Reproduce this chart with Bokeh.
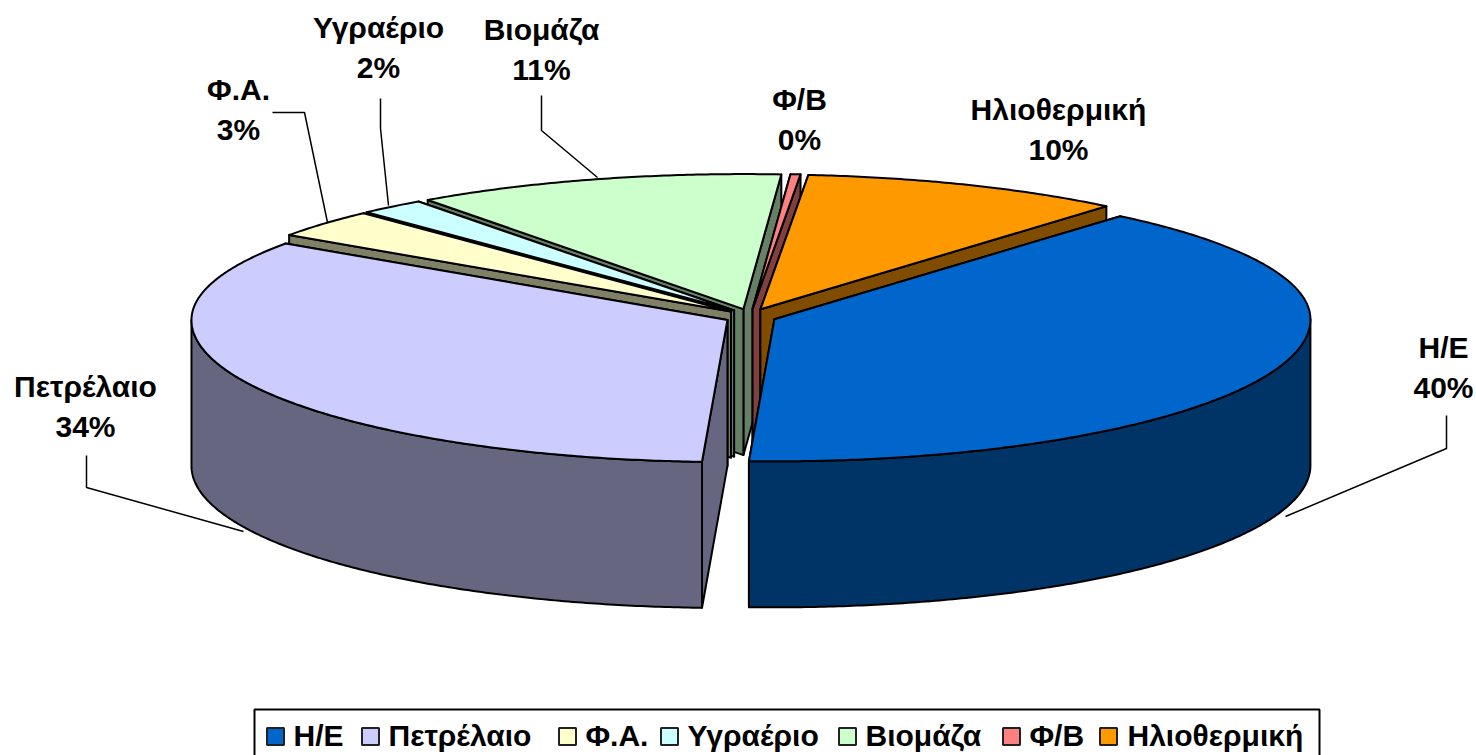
import numpy as np
from bokeh.plotting import figure
from bokeh.models import Range1d
from bokeh.core.properties import value
from bokeh.embed import file_html
from bokeh.resources import INLINE

categories = ["Η/Ε", "Πετρέλαιο", "Φ.Α.", "Υγραέριο", "Βιομάζα", "Φ/Β", "Ηλιοθερμική"]
values = [39.59, 33.82, 3.4, 2.0, 11.15, 0.3, 9.74]
top_colors = ["#0066CC", "#CCCCFF", "#FFFFCC", "#CCFFFF", "#CCFFCC", "#FF8080", "#FF9900"]
side_colors = ["#003366", "#666680", "#808066", "#668080", "#668066", "#804040", "#804D00"]
label_x = [1443, 85, 238, 378, 541, 799, 1058]
label_y = [346.5, 385.5, 88.5, 26.5, 28.5, 98.5, 108.5]
leader_x = [[1446, 1446, 1285], [86, 86, 243], [272, 304, 327], [380, 380, 388], [541, 541, 597], [], []]
leader_y = [[415, 448, 516], [455, 487, 531], [112, 112, 222], [98, 128, 205], [95, 130, 177], [], []]
legend_swatch_x = [275, 370, 567, 669, 847, 1011, 1108]
legend_text_x = [293, 388, 585, 687, 865, 1029, 1127]

START, RX, RY_FRONT, RY_BACK, DEPTH, EXPLODE, SQUASH = 40.2, 536, 142, 135, 146, 25.7, 0.3
CX, CY = 750, 316
FONT = value("Liberation Sans")

p = figure(width=1476, height=755, output_backend="svg", toolbar_location=None,
           x_range=Range1d(0, 1476), y_range=Range1d(755, 0), min_border=0,
           outline_line_color=None, background_fill_color="white")
p.axis.visible = False
p.grid.visible = False

total = sum(values)
edges = START + np.concatenate([[0], np.cumsum(values)]) / total * 360.0

def rim(cx, cy, a0, a1):
    th = np.radians(np.linspace(a0, a1, max(3, int(a1 - a0) * 2 + 1)))
    ry = np.where(np.cos(th) < 0, RY_FRONT, RY_BACK)
    return cx + RX * np.sin(th), cy - ry * np.cos(th)

for i in [4, 5, 6, 3, 2, 0, 1]:
    a0, a1 = edges[i], edges[i + 1]
    mid = np.radians((a0 + a1) / 2)
    cx = CX + EXPLODE * np.sin(mid)
    cy = CY - EXPLODE * SQUASH * np.cos(mid)
    rx, ry = rim(cx, cy, a0, a1)
    kw = dict(fill_color=side_colors[i], line_color="black", line_width=2, line_join="round")
    # the left-hand slices show their first cut face on top of the last one
    for j in ((-1, 0) if i in (1, 2, 3, 4) else (0, -1)):
        p.patch([cx, rx[j], rx[j], cx], [cy, ry[j], ry[j] + DEPTH, cy + DEPTH], **kw)
    f0, f1 = max(a0, 90), min(a1, 270)
    if f1 > f0:
        wx, wy = rim(cx, cy, f0, f1)
        p.patch(np.r_[wx, wx[::-1]], np.r_[wy, wy[::-1] + DEPTH], **kw)
    p.patch(np.r_[cx, rx], np.r_[cy, ry], fill_color=top_colors[i], line_color="black",
            line_width=2, line_join="round")

for xs, ys in zip(leader_x, leader_y):
    if xs:
        p.line(xs, ys, line_color="black", line_width=1.5)

pct = [f"{round(v / total * 100)}%" for v in values]
p.text(label_x, label_y, text=categories, text_font=FONT, text_font_style="bold",
       text_font_size="30px", text_align="center", text_baseline="middle", text_color="black")
p.text(label_x, [y + 40.5 for y in label_y], text=pct, text_font=FONT, text_font_style="bold",
       text_font_size="30px", text_align="center", text_baseline="middle", text_color="black")

# legend
p.quad(left=[254], right=[1319], top=[709], bottom=[770], fill_color="white", line_color="black", line_width=2)
p.scatter(legend_swatch_x, [736] * 7, marker="square", size=17, fill_color=top_colors,
          line_color="#222222", line_width=2)
p.text(legend_text_x, [735] * 7, text=categories, text_font=FONT, text_font_style="bold",
       text_font_size="30px", text_align="left", text_baseline="middle", text_color="black")

open("out.html", "w").write(file_html(p, INLINE))
